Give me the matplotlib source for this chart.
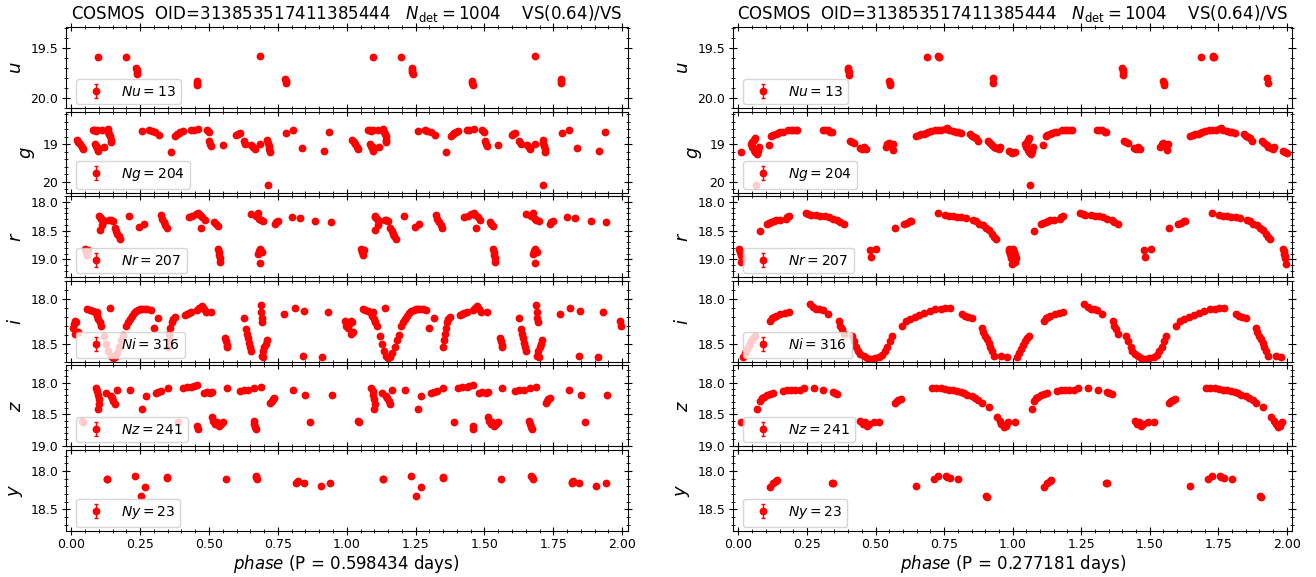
import numpy as np
import matplotlib.pyplot as plt
from matplotlib.ticker import MultipleLocator, AutoMinorLocator

bands = ['u', 'g', 'r', 'i', 'z', 'y']
counts = [13, 204, 207, 316, 241, 23]
periods = [0.598434, 0.277181]
ylims = [(20.10, 19.29), (20.29, 18.13), (19.31, 17.90),
         (18.70, 17.80), (19.01, 17.72), (18.78, 17.72)]
ysteps = [0.5, 1.0, 0.5, 0.5, 0.5, 0.5]
title = r'COSMOS  OID=313853517411385444   $N_{\rm det} = 1004$    VS(0.64)/VS'

# --- P = 0.598434 d (left) ---
u1_ph = [0.097, 0.197, 0.236, 0.237, 0.238, 0.239, 0.455, 0.456, 0.457, 0.685, 0.777, 0.778, 0.779]
u1_mag = [19.59, 19.59, 19.70, 19.72, 19.74, 19.76, 19.83, 19.85, 19.87, 19.58, 19.81, 19.83, 19.85]

g1_ph = [0.020, 0.025, 0.031, 0.037, 0.041, 0.077, 0.083, 0.089, 0.095, 0.086, 0.089, 0.092, 0.097, 0.094,
         0.112, 0.117, 0.132, 0.135, 0.138, 0.141, 0.143, 0.144, 0.258, 0.283, 0.292, 0.304, 0.320, 0.361,
         0.378, 0.384, 0.390, 0.396, 0.404, 0.435, 0.445, 0.461, 0.492, 0.499, 0.501, 0.504, 0.508, 0.550,
         0.599, 0.605, 0.611, 0.627, 0.631, 0.654, 0.661, 0.667, 0.685, 0.711, 0.714, 0.717, 0.719, 0.720,
         0.714, 0.780, 0.806, 0.836, 0.916, 0.937]
g1_mag = [18.88, 18.93, 19.00, 19.07, 19.13, 18.63, 18.63, 18.65, 18.63, 18.98, 19.04, 19.10, 19.17, 19.07,
          18.63, 19.08, 18.58, 18.67, 18.73, 18.79, 18.88, 18.93, 18.65, 18.63, 18.65, 18.68, 18.75, 19.21,
          18.77, 18.73, 18.70, 18.67, 18.65, 18.63, 18.62, 18.58, 18.63, 18.67, 18.92, 18.98, 19.04, 19.02,
          18.75, 18.72, 18.70, 18.92, 18.98, 19.02, 19.07, 19.12, 19.00, 18.88, 18.96, 19.04, 19.12, 19.21,
          20.07, 18.69, 18.63, 19.11, 19.18, 18.68]

r1_ph = [0.051, 0.055, 0.058, 0.061, 0.101, 0.104, 0.109, 0.114, 0.117, 0.104, 0.112, 0.138, 0.144, 0.151,
         0.158, 0.163, 0.167, 0.172, 0.177, 0.209, 0.247, 0.263, 0.324, 0.329, 0.335, 0.341, 0.346, 0.427,
         0.439, 0.452, 0.461, 0.467, 0.476, 0.485, 0.470, 0.519, 0.525, 0.532, 0.532, 0.535, 0.536, 0.538,
         0.539, 0.651, 0.670, 0.676, 0.682, 0.688, 0.697, 0.676, 0.680, 0.685, 0.691, 0.684, 0.739, 0.743,
         0.750, 0.800, 0.829, 0.885, 0.942]
r1_mag = [18.81, 18.87, 18.92, 18.84, 18.25, 18.27, 18.30, 18.32, 18.34, 18.49, 18.40, 18.31, 18.32, 18.33,
          18.46, 18.50, 18.55, 18.60, 18.64, 18.25, 18.43, 18.38, 18.23, 18.29, 18.35, 18.40, 18.45, 18.26,
          18.25, 18.21, 18.20, 18.22, 18.27, 18.32, 18.46, 18.35, 18.38, 18.42, 18.81, 18.87, 18.92, 18.98,
          19.04, 18.21, 18.25, 18.19, 18.29, 18.32, 18.33, 18.90, 18.85, 18.82, 18.87, 19.06, 18.38, 18.35,
          18.33, 18.26, 18.28, 18.33, 18.35]

i1_ph = [0.005, 0.009, 0.014, 0.018, 0.023, 0.015, 0.058, 0.068, 0.077, 0.086, 0.095, 0.092, 0.098, 0.104,
         0.109, 0.120, 0.127, 0.135, 0.143, 0.150, 0.158, 0.166, 0.174, 0.181, 0.189, 0.140, 0.197, 0.204,
         0.212, 0.220, 0.227, 0.235, 0.243, 0.250, 0.258, 0.266, 0.276, 0.289, 0.300, 0.315, 0.350, 0.353,
         0.356, 0.359, 0.364, 0.369, 0.375, 0.412, 0.419, 0.427, 0.435, 0.458, 0.465, 0.473, 0.481, 0.488,
         0.508, 0.558, 0.561, 0.564, 0.565, 0.627, 0.634, 0.637, 0.641, 0.644, 0.648, 0.651, 0.688, 0.690,
         0.691, 0.693, 0.691, 0.696, 0.700, 0.705, 0.710, 0.697, 0.773, 0.811, 0.842, 0.845, 0.911, 0.931,
         0.992, 0.997]
i1_mag = [18.32, 18.28, 18.25, 18.26, 18.37, 18.39, 18.12, 18.13, 18.14, 18.15, 18.15, 18.19, 18.22, 18.26,
          18.30, 18.41, 18.50, 18.58, 18.64, 18.66, 18.65, 18.60, 18.53, 18.46, 18.40, 18.10, 18.30, 18.26,
          18.22, 18.19, 18.16, 18.14, 18.13, 18.12, 18.11, 18.12, 18.12, 18.13, 18.32, 18.21, 18.53, 18.46,
          18.39, 18.32, 18.26, 18.22, 18.20, 18.18, 18.17, 18.16, 18.15, 18.13, 18.10, 18.08, 18.12, 18.15,
          18.15, 18.44, 18.47, 18.51, 18.53, 18.21, 18.34, 18.39, 18.44, 18.49, 18.53, 18.58, 18.07, 18.15,
          18.21, 18.26, 18.63, 18.58, 18.53, 18.50, 18.46, 18.65, 18.17, 18.10, 18.63, 18.14, 18.65, 18.15,
          18.25, 18.30]

z1_ph = [0.040, 0.043, 0.089, 0.094, 0.097, 0.100, 0.101, 0.098, 0.127, 0.143, 0.147, 0.152, 0.157, 0.166,
         0.212, 0.258, 0.270, 0.307, 0.316, 0.327, 0.350, 0.389, 0.404, 0.419, 0.435, 0.445, 0.458, 0.458,
         0.459, 0.481, 0.492, 0.504, 0.512, 0.512, 0.516, 0.522, 0.528, 0.535, 0.542, 0.550, 0.565, 0.611,
         0.627, 0.642, 0.662, 0.665, 0.668, 0.671, 0.665, 0.688, 0.722, 0.727, 0.731, 0.737, 0.806, 0.849,
         0.865, 0.946]
z1_mag = [18.61, 18.63, 18.08, 18.13, 18.19, 18.26, 18.34, 18.42, 18.17, 18.21, 18.25, 18.29, 18.33, 18.12,
          18.12, 18.41, 18.21, 18.16, 18.14, 18.13, 18.09, 18.63, 18.08, 18.07, 18.06, 18.05, 18.03, 18.68,
          18.74, 18.16, 18.15, 18.16, 18.15, 18.55, 18.61, 18.66, 18.63, 18.68, 18.65, 18.62, 18.09, 18.13,
          18.12, 18.11, 18.61, 18.66, 18.71, 18.74, 18.09, 18.06, 18.32, 18.29, 18.26, 18.24, 18.11, 18.19,
          18.62, 18.20]

y1_ph = [0.130, 0.131, 0.233, 0.253, 0.268, 0.348, 0.349, 0.560, 0.670, 0.672, 0.675, 0.817, 0.819, 0.822,
         0.844, 0.905, 0.940]
y1_mag = [18.10, 18.11, 18.07, 18.33, 18.21, 18.08, 18.09, 18.11, 18.07, 18.08, 18.10, 18.15, 18.14, 18.13,
          18.16, 18.19, 18.16]

# --- P = 0.277181 d (right) ---
u2_ph = [0.400, 0.401, 0.402, 0.404, 0.550, 0.551, 0.552, 0.686, 0.729, 0.731, 0.733, 0.928, 0.930]
u2_mag = [19.70, 19.72, 19.74, 19.77, 19.83, 19.85, 19.87, 19.59, 19.58, 19.585, 19.59, 19.80, 19.85]

g2_ph = [0.008, 0.046, 0.051, 0.055, 0.060, 0.049, 0.055, 0.061, 0.068, 0.071, 0.074, 0.111, 0.120, 0.126,
         0.135, 0.144, 0.153, 0.161, 0.181, 0.190, 0.200, 0.209, 0.215, 0.307, 0.316, 0.325, 0.335, 0.341,
         0.407, 0.414, 0.422, 0.442, 0.450, 0.457, 0.464, 0.537, 0.543, 0.550, 0.556, 0.562, 0.565, 0.648,
         0.657, 0.666, 0.675, 0.685, 0.691, 0.703, 0.715, 0.728, 0.740, 0.752, 0.761, 0.767, 0.783, 0.792,
         0.801, 0.810, 0.844, 0.852, 0.860, 0.867, 0.872, 0.910, 0.918, 0.926, 0.933, 0.941, 0.949, 0.952,
         0.987, 0.995, 0.999, 0.065]
g2_mag = [19.21, 19.00, 18.93, 18.88, 18.83, 19.08, 19.15, 19.21, 19.25, 19.17, 19.08, 19.02, 18.79, 18.75,
          18.72, 18.70, 18.68, 18.67, 18.63, 18.63, 18.62, 18.62, 18.63, 18.61, 18.62, 18.63, 18.67, 18.68,
          18.90, 18.93, 18.97, 19.10, 19.13, 19.08, 19.12, 19.07, 19.00, 18.96, 19.04, 19.15, 18.98, 18.79,
          18.75, 18.73, 18.72, 18.70, 18.68, 18.65, 18.63, 18.62, 18.61, 18.60, 18.57, 18.62, 18.65, 18.67,
          18.68, 18.70, 18.73, 18.77, 18.80, 18.83, 18.92, 18.92, 18.97, 19.02, 19.07, 19.10, 19.13, 19.07,
          19.18, 19.21, 19.23, 20.07]

r2_ph = [0.003, 0.006, 0.009, 0.011, 0.008, 0.077, 0.104, 0.112, 0.120, 0.129, 0.138, 0.150, 0.173, 0.178,
         0.184, 0.246, 0.255, 0.264, 0.284, 0.299, 0.315, 0.330, 0.345, 0.361, 0.371, 0.384, 0.480, 0.484,
         0.503, 0.571, 0.603, 0.614, 0.625, 0.629, 0.726, 0.752, 0.767, 0.783, 0.798, 0.813, 0.829, 0.856,
         0.867, 0.878, 0.890, 0.903, 0.913, 0.924, 0.933, 0.939, 0.985, 0.988, 0.990, 0.993, 0.995, 0.997]
r2_mag = [18.81, 18.87, 18.92, 18.98, 19.04, 18.50, 18.39, 18.36, 18.35, 18.34, 18.32, 18.32, 18.29, 18.26,
          18.24, 18.20, 18.21, 18.22, 18.23, 18.24, 18.25, 18.27, 18.29, 18.32, 18.35, 18.39, 18.84, 18.95,
          18.81, 18.46, 18.39, 18.36, 18.34, 18.33, 18.20, 18.23, 18.24, 18.25, 18.26, 18.27, 18.28, 18.32,
          18.34, 18.38, 18.40, 18.45, 18.49, 18.55, 18.61, 18.65, 18.82, 18.86, 18.90, 18.94, 18.98, 19.07]

i2_ph = [0.015, 0.023, 0.031, 0.038, 0.046, 0.054, 0.061, 0.115, 0.123, 0.130, 0.138, 0.153, 0.169, 0.184,
         0.261, 0.273, 0.284, 0.295, 0.307, 0.325, 0.365, 0.371, 0.378, 0.384, 0.414, 0.422, 0.430, 0.437,
         0.445, 0.457, 0.468, 0.484, 0.499, 0.514, 0.525, 0.534, 0.543, 0.553, 0.560, 0.596, 0.611, 0.626,
         0.642, 0.660, 0.678, 0.698, 0.718, 0.737, 0.752, 0.771, 0.814, 0.826, 0.838, 0.852, 0.887, 0.893,
         0.899, 0.906, 0.912, 0.918, 0.924, 0.933, 0.959, 0.979]
i2_mag = [18.65, 18.60, 18.56, 18.51, 18.47, 18.44, 18.41, 18.25, 18.21, 18.20, 18.19, 18.17, 18.16, 18.15,
          18.06, 18.09, 18.11, 18.12, 18.13, 18.17, 18.25, 18.30, 18.34, 18.39, 18.41, 18.47, 18.53, 18.58,
          18.61, 18.64, 18.66, 18.67, 18.66, 18.65, 18.62, 18.58, 18.53, 18.47, 18.41, 18.30, 18.25, 18.22,
          18.20, 18.18, 18.16, 18.14, 18.12, 18.11, 18.10, 18.10, 18.17, 18.19, 18.20, 18.21, 18.32, 18.37,
          18.41, 18.45, 18.49, 18.53, 18.58, 18.63, 18.64, 18.65]

z2_ph = [0.008, 0.069, 0.077, 0.084, 0.092, 0.104, 0.115, 0.126, 0.161, 0.177, 0.192, 0.207, 0.223, 0.238,
         0.276, 0.310, 0.345, 0.353, 0.361, 0.445, 0.453, 0.460, 0.468, 0.476, 0.494, 0.514, 0.571, 0.577,
         0.583, 0.591, 0.706, 0.721, 0.737, 0.752, 0.767, 0.783, 0.798, 0.810, 0.823, 0.832, 0.852, 0.863,
         0.875, 0.887, 0.913, 0.944, 0.952, 0.959, 0.967, 0.975, 0.982]
z2_mag = [18.63, 18.42, 18.29, 18.25, 18.23, 18.20, 18.18, 18.17, 18.13, 18.12, 18.12, 18.11, 18.11, 18.08,
          18.09, 18.12, 18.15, 18.16, 18.18, 18.61, 18.66, 18.63, 18.68, 18.65, 18.62, 18.62, 18.32, 18.29,
          18.27, 18.26, 18.09, 18.09, 18.09, 18.10, 18.11, 18.11, 18.13, 18.15, 18.17, 18.19, 18.21, 18.25,
          18.28, 18.32, 18.39, 18.55, 18.61, 18.66, 18.71, 18.68, 18.63]

y2_ph = [0.115, 0.126, 0.138, 0.141, 0.341, 0.343, 0.648, 0.714, 0.726, 0.757, 0.760, 0.772, 0.801, 0.903,
         0.905]
y2_mag = [18.21, 18.16, 18.13, 18.12, 18.16, 18.15, 18.19, 18.10, 18.07, 18.07, 18.08, 18.09, 18.11, 18.33,
          18.34]

left = [(u1_ph, u1_mag), (g1_ph, g1_mag), (r1_ph, r1_mag), (i1_ph, i1_mag), (z1_ph, z1_mag), (y1_ph, y1_mag)]
right = [(u2_ph, u2_mag), (g2_ph, g2_mag), (r2_ph, r2_mag), (i2_ph, i2_mag), (z2_ph, z2_mag), (y2_ph, y2_mag)]

fig = plt.figure(figsize=(13.16, 5.77), dpi=100)
grids = [fig.add_gridspec(6, 1, left=0.050, right=0.477, top=0.953, bottom=0.080, hspace=0.04),
         fig.add_gridspec(6, 1, left=0.557, right=0.982, top=0.953, bottom=0.080, hspace=0.04)]

for col, (gs, data, per) in enumerate(zip(grids, [left, right], periods)):
    axes = []
    for k, b in enumerate(bands):
        ax = fig.add_subplot(gs[k], sharex=axes[0] if axes else None)
        axes.append(ax)
        ph = np.array(data[k][0])
        mag = np.array(data[k][1])
        x = np.concatenate([ph, ph + 1])
        y = np.concatenate([mag, mag])
        ax.errorbar(x, y, yerr=0.01, fmt='o', color='red', ms=4.6, elinewidth=1,
                    capsize=1.5, label=r'$N%s = %d$' % (b, counts[k]))
        ax.set_ylim(*ylims[k])
        ax.set_xlim(-0.02, 2.02)
        ax.set_ylabel(r'$%s$' % b, fontsize=13)
        ax.xaxis.set_major_locator(MultipleLocator(0.25))
        ax.xaxis.set_minor_locator(MultipleLocator(0.05))
        ax.yaxis.set_major_locator(MultipleLocator(ysteps[k]))
        ax.yaxis.set_minor_locator(AutoMinorLocator())
        ax.tick_params(which='both', direction='inout', top=True, right=True, labelsize=9, pad=2.5)
        ax.tick_params(which='major', length=6)
        ax.tick_params(which='minor', length=3)
        ax.legend(loc='lower left', fontsize=10, borderaxespad=0.3, bbox_to_anchor=(0.011, 0.0))
        if k < 5:
            ax.tick_params(labelbottom=False)
    axes[0].set_title(title, fontsize=12)
    axes[-1].set_xlabel(r'$phase$ (P = %.6f days)' % per, fontsize=12, labelpad=1)

plt.savefig('out.png', dpi=100)
